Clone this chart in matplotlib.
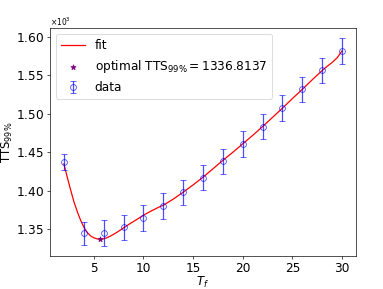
import numpy as np
import matplotlib
matplotlib.use("Agg")
import matplotlib.pyplot as plt

# measured points
tf = [2, 4, 6, 8, 10, 12, 14, 16, 18, 20, 22, 24, 26, 28, 30]
tts = [1437.2, 1344.4, 1344.8, 1352.2, 1364.2, 1379.8, 1397.9, 1417.0,
       1438.1, 1460.5, 1483.4, 1507.6, 1531.8, 1556.8, 1581.9]
tts_err = [10.0, 15.3, 16.4, 16.8, 16.6, 16.8, 16.6, 16.6,
           16.6, 16.6, 16.6, 16.4, 16.4, 16.4, 16.4]

# fitted curve
fit_x = [2.0, 2.35, 2.7, 3.0, 3.37, 3.7, 4.03, 4.35, 4.7, 5.0, 5.3, 5.63,
         6.0, 6.3, 6.7, 7.3, 8.0, 8.7, 9.4, 10.0, 10.7, 11.7, 12.0, 13.0,
         14.0, 15.0, 16.0, 17.0, 18.0, 19.0, 20.0, 21.0, 22.0, 23.0, 24.0,
         25.0, 26.0, 27.0, 28.0, 28.5, 29.0, 29.5, 30.0]
fit_y = [1435.0, 1417.0, 1400.0, 1386.0, 1372.0, 1361.0, 1352.0, 1345.5,
         1341.0, 1338.8, 1337.4, 1336.8, 1337.4, 1338.6, 1341.0, 1345.5,
         1351.5, 1357.5, 1363.0, 1368.0, 1373.0, 1379.5, 1381.0, 1389.0,
         1398.0, 1407.5, 1417.5, 1428.5, 1439.5, 1450.0, 1461.0, 1472.0,
         1483.5, 1495.5, 1507.5, 1520.0, 1532.0, 1544.5, 1556.5, 1562.0,
         1567.0, 1573.0, 1582.0]

opt_tf = 5.63
opt_tts = 1336.8137

DPI = 60
plt.rcParams['font.size'] = 14.5
fig, ax = plt.subplots(figsize=(383 / DPI, 289 / DPI), dpi=DPI)
fig.subplots_adjust(left=0.1305, right=0.9295, top=0.903, bottom=0.114)

ax.plot(fit_x, fit_y, color='red', lw=1.5, label='fit')
ax.scatter([opt_tf], [opt_tts], marker='*', color='purple', s=40, zorder=3,
           label=r'optimal $\mathrm{TTS}_{99\%}=$' + f'{opt_tts:.4f}')
ax.errorbar(tf, tts, yerr=tts_err, fmt='o', mfc='none', color='blue',
            alpha=0.7, ms=7, capsize=3.5, elinewidth=1.5, label='data')

ax.set_xlabel(r'$T_f$', fontsize=14, labelpad=0.5)
ax.set_ylabel(r'$\mathrm{TTS}_{99\%}$', fontsize=14, labelpad=1.5)
ax.set_xticks([5, 10, 15, 20, 25, 30])
ax.ticklabel_format(axis='y', style='sci', scilimits=(3, 3), useMathText=True)
ax.yaxis.get_offset_text().set_fontsize(9)
ax.legend(loc='upper left')

fig.savefig('out.png', dpi=DPI)
